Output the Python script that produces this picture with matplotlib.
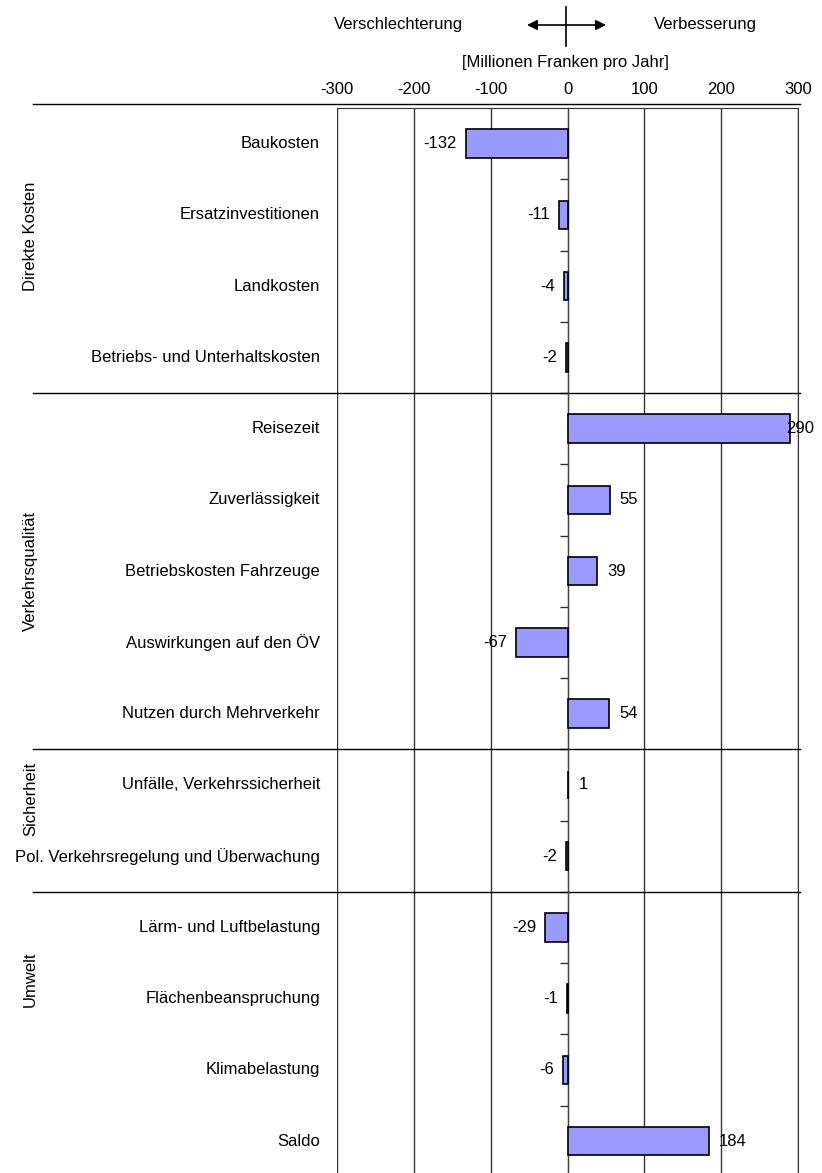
import matplotlib
matplotlib.use("Agg")
import matplotlib.pyplot as plt
import matplotlib.transforms as mtransforms
from matplotlib.lines import Line2D

plt.rcParams['font.family'] = ['Liberation Sans', 'DejaVu Sans']

categories = [
    "Baukosten", "Ersatzinvestitionen", "Landkosten",
    "Betriebs- und Unterhaltskosten",
    "Reisezeit", "Zuverlässigkeit", "Betriebskosten Fahrzeuge",
    "Auswirkungen auf den ÖV", "Nutzen durch Mehrverkehr",
    "Unfälle, Verkehrssicherheit", "Pol. Verkehrsregelung und Überwachung",
    "Lärm- und Luftbelastung", "Flächenbeanspruchung", "Klimabelastung",
    "Saldo",
]
values = [-132, -11, -4, -2, 290, 55, 39, -67, 54, 1, -2, -29, -1, -6, 184]

groups = ["Direkte Kosten", "Verkehrsqualität", "Sicherheit", "Umwelt"]
group_pos = [1.3, 6.0, 9.2, 11.73]
separators = [-0.56, 3.5, 8.5, 10.5]
xticks = [-300, -200, -100, 0, 100, 200, 300]

W, H = 822, 1173
fig = plt.figure(figsize=(W / 100, H / 100), dpi=100)
ax_left, ax_right, ax_top = 337, 798, 108
row_px = 71.25
ax = fig.add_axes([ax_left / W, 0, (ax_right - ax_left) / W, (H - ax_top) / H])

n = len(categories)
ypos = list(range(n))
ax.barh(ypos, values, height=0.4, color='#9999FF', edgecolor='black',
        linewidth=1.2, zorder=3)

ax.set_xlim(-300, 300)
ax.set_ylim(-0.5 + (H - ax_top) / row_px, -0.5)

ax.xaxis.tick_top()
ax.set_xticks(xticks)
ax.set_xticklabels([str(t) for t in xticks])
ax.tick_params(axis='x', length=0, pad=8, labelsize=12)
ax.grid(axis='x', color='#333333', linewidth=1, zorder=1)

ax.spines['left'].set_position(('data', 0))
ax.spines['left'].set_color('#444444')
ax.spines['right'].set_color('#333333')
ax.spines['bottom'].set_visible(False)
ax.spines['top'].set_color('#333333')
ax.set_yticks([])
ax.set_yticks([k + 0.5 for k in range(n - 1)], minor=True)
ax.tick_params(axis='y', which='minor', direction='out', length=6,
               width=1, color='#333333', labelleft=False)

trans = mtransforms.blended_transform_factory(ax.transAxes, ax.transData)
for i, cat in enumerate(categories):
    ax.annotate(cat, xy=(0, i), xycoords=trans, xytext=(-17, 0),
                textcoords='offset pixels', ha='right', va='center',
                fontsize=12)

for g, gy in zip(groups, group_pos):
    ax.text(-0.665, gy, g, transform=trans, rotation=90, ha='center',
            va='center', fontsize=12)

for y in separators:
    ax.plot([-0.66, 1.004], [y, y], transform=trans, clip_on=False,
            color='black', linewidth=1)

for i, v in enumerate(values):
    if v < 0:
        off, ha = -9, 'right'
    elif v > 280:
        off, ha = -4, 'left'
    else:
        off, ha = 10, 'left'
    ax.annotate(str(v), xy=(v, i), xytext=(off, 0),
                textcoords='offset pixels', ha=ha, va='center',
                fontsize=12, zorder=4)

# header
fig.text(398 / W, 1 - 24 / H, "Verschlechterung", ha='center', va='center',
         fontsize=12)
fig.text(705 / W, 1 - 24 / H, "Verbesserung", ha='center', va='center',
         fontsize=12)
fig.text(565 / W, 1 - 62 / H, "[Millionen Franken pro Jahr]", ha='center',
         va='center', fontsize=12)
fig.add_artist(Line2D([566 / W, 566 / W], [1 - 7 / H, 1 - 46 / H],
                      color='black', linewidth=1.2))
ax.annotate('', xy=(606 / W, 1 - 25 / H), xytext=(527 / W, 1 - 25 / H),
            xycoords='figure fraction', textcoords='figure fraction',
            arrowprops=dict(arrowstyle='<|-|>', color='black', lw=1.2,
                            mutation_scale=15, shrinkA=0, shrinkB=0))

fig.savefig("out.png", dpi=100)
